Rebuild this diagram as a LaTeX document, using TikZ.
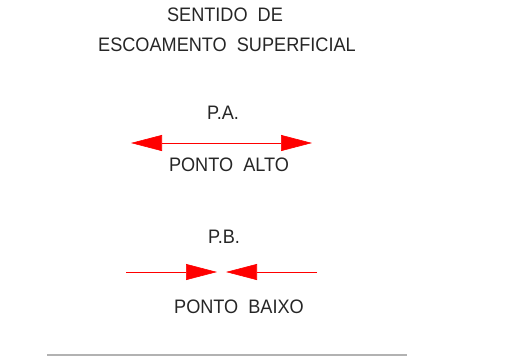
\documentclass[tikz,border=0pt]{standalone}
\usepackage{fontspec}
\setmainfont{Liberation Sans}[FakeStretch=0.93]
\usetikzlibrary{arrows.meta,positioning}

\begin{document}
\begin{tikzpicture}[x=1pt,y=-1pt,
                    txt/.style={inner sep=0pt, text=black!85, font=\fontsize{19.5}{22}\selectfont},
                    flow/.style={red, line width=0.6pt},
                    >={Triangle[length=31pt,width=16pt]}]
  \useasboundingbox (0,0) rectangle (509,360);
  % title
  \node[txt] (title1) at (225,15) {SENTIDO\ \ DE};
  \node[txt] (title2) at (227,45) {ESCOAMENTO\ \ SUPERFICIAL};

  % ponto alto
  \node[txt] (pa) at (223,113) {P.A.};
  \coordinate (pa-l) at (131,143);
  \coordinate (pa-r) at (312,143);
  \draw[flow,<->] (pa-l) -- (pa-r);
  \node[txt] (alto) at (229,165) {PONTO\ \ ALTO};

  % ponto baixo
  \node[txt] (pb) at (224,237) {P.B.};
  \coordinate (pb-l) at (126,272);
  \coordinate (pb-lt) at (217,272);
  \coordinate (pb-rt) at (226,272);
  \coordinate (pb-r) at (317,272);
  \draw[flow,->] (pb-l) -- (pb-lt);
  \draw[flow,->] (pb-r) -- (pb-rt);
  \node[txt] (baixo) at (239,307) {PONTO\ \ BAIXO};

  % base line
  \coordinate (base-l) at (47,355);
  \coordinate (base-r) at (407,355);
  \draw[gray!60, line width=1.2pt] (base-l) -- (base-r);
\end{tikzpicture}
\end{document}
